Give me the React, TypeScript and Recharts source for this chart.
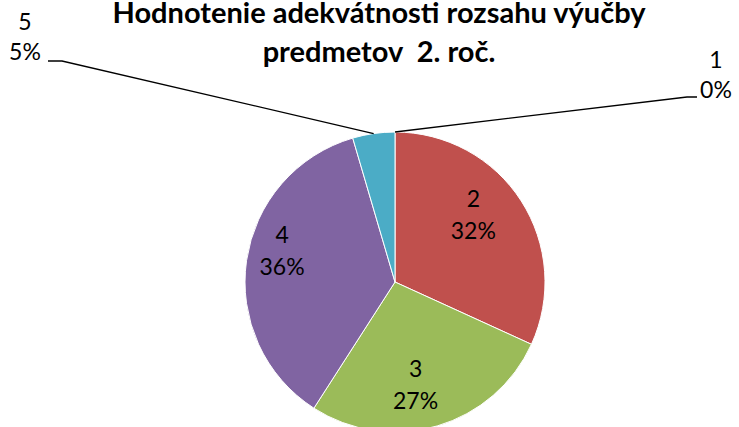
import React from 'react';
import { PieChart, Pie, Cell } from 'recharts';

// ── data ──────────────────────────────────────────────────
const grades = ['1', '2', '3', '4', '5'];
const counts = [0, 7, 6, 8, 1];
const sliceColors = ['#4F81BD', '#C0504D', '#9BBB59', '#8064A2', '#4BACC6'];

const titleLines = ['Hodnotenie adekvátnosti rozsahu výučby', 'predmetov  2. roč.'];

const pieData = grades.map((g, i) => ({ name: g, value: counts[i] }));

const FONT = 'Lato, "Open Sans", sans-serif';
const RADIAN = Math.PI / 180;

// label placement tweaks (styling only), relative to the slice centre point
const insideNudge: Record<number, [number, number]> = {
  1: [-10, -18],
  2: [-9, -6],
  3: [-9, -24],
};

const renderLabel = (props: any) => {
  const { cx, cy, midAngle, outerRadius, percent, index, name } = props;
  const pct = `${Math.round(percent * 100)}%`;
  const cos = Math.cos(-midAngle * RADIAN);
  const sin = Math.sin(-midAngle * RADIAN);

  if (index === 0 || index === 4) {
    // outside labels with a leader line
    const sx = cx + outerRadius * cos;
    const sy = cy + outerRadius * sin;
    const right = index === 0;
    const ey = right ? cy - 185 : cy - 221;
    const ex = right ? cx + 292 : cx - 333;
    const tx = right ? cx + 302 : cx - 347;
    const lx = right ? cx + 321 : cx - 370;
    return (
      <g key={`l${index}`}>
        <polyline points={`${sx},${sy} ${ex},${ey} ${tx},${ey}`} fill="none" stroke="#000" strokeWidth={1.3} />
        <text x={lx} y={ey + (right ? 1 : -1) - 30} textAnchor="middle" fontFamily={FONT} fontSize={23} fill="#000">
          {name}
        </text>
        <text x={lx} y={ey + (right ? 1 : -1)} textAnchor="middle" fontFamily={FONT} fontSize={23} fill="#000">
          {pct}
        </text>
      </g>
    );
  }

  const r = outerRadius * 0.7;
  const [nx, ny] = insideNudge[index] || [0, 0];
  const x = cx + r * cos + nx;
  const y = cy + r * sin + ny;
  return (
    <g key={`l${index}`}>
      <text x={x} y={y} textAnchor="middle" fontFamily={FONT} fontSize={23} fill="#000">{name}</text>
      <text x={x} y={y + 32} textAnchor="middle" fontFamily={FONT} fontSize={23} fill="#000">{pct}</text>
    </g>
  );
};

export default function App() {
  return (
    <div style={{ position: 'absolute', left: 0, top: 0, width: 739, height: 427, background: '#fff', overflow: 'hidden' }}>
      <div
        style={{
          position: 'absolute', left: 0, top: 0, width: 758, textAlign: 'center',
          fontFamily: FONT, fontWeight: 700, fontSize: 29, lineHeight: '39px', color: '#000',
          whiteSpace: 'pre', marginTop: -8,
        }}
      >
        {titleLines.map((t, i) => <div key={i}>{t}</div>)}
      </div>
      <PieChart
        width={739}
        height={427}
        margin={{ top: 0, right: 0, bottom: 0, left: 0 }}
        style={{ position: 'absolute', left: 0, top: 0 }}
      >
        <Pie
          data={pieData}
          dataKey="value"
          nameKey="name"
          cx={395}
          cy={282}
          outerRadius={150}
          startAngle={90}
          endAngle={-270}
          stroke="#fff"
          strokeWidth={1}
          labelLine={false}
          label={renderLabel}
          isAnimationActive={false}
        >
          {pieData.map((_, i) => (
            <Cell key={i} fill={sliceColors[i]} />
          ))}
        </Pie>
      </PieChart>
    </div>
  );
}
